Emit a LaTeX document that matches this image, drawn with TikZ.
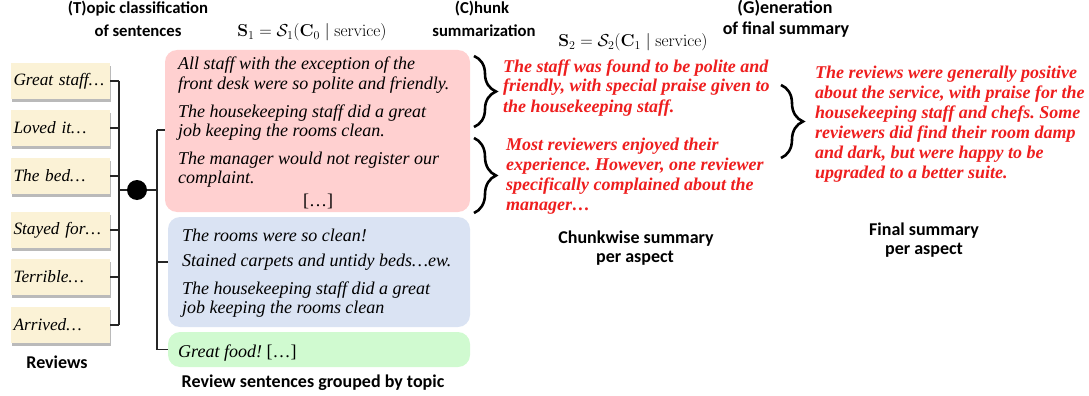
\documentclass[tikz,border=0pt]{standalone}
\usepackage[no-math]{fontspec}
\newfontfamily\tnr{Liberation Serif}
\newfontfamily\calib{Carlito}
\usepackage{amsmath}
\usetikzlibrary{shadows,decorations.pathreplacing}
\definecolor{cream}{RGB}{251,242,214}
\definecolor{pinkfill}{RGB}{255,208,208}
\definecolor{bluefill}{RGB}{218,227,243}
\definecolor{greenfill}{RGB}{208,250,208}
\definecolor{redtext}{RGB}{238,30,30}
\frenchspacing
\begin{document}
\begin{tikzpicture}[x=1pt,y=-1pt,
 sent/.style={font=\tnr\fontsize{18}{19}\selectfont\itshape, inner sep=0pt, anchor=base west},
 redtxt/.style={font=\tnr\fontsize{18}{20}\selectfont\bfseries\itshape, text=redtext, inner sep=0pt, anchor=base west},
 head/.style={font=\calib\bfseries\fontsize{18}{21}\selectfont, inner sep=0pt, anchor=base},
 headsm/.style={head, font=\calib\bfseries\fontsize{16.7}{20}\selectfont},
 mathlbl/.style={font=\fontsize{16.5}{18}\selectfont, inner sep=0pt, anchor=base},
 review/.style={fill=cream, text width=94pt, inner xsep=2.5pt, inner ysep=0pt, minimum height=36pt, align=left,
   font=\tnr\fontsize{17.3}{18}\selectfont\itshape,
   drop shadow={shadow xshift=1pt, shadow yshift=-3pt, fill=black!45, opacity=0.6}},
 topicbox/.style={rounded corners=12pt, inner sep=0pt},
 tree/.style={line width=1.3pt, black!85},
 brc/.style={decorate, decoration={brace, amplitude=22pt}, line width=2.6pt}
]
\useasboundingbox (0,0) rectangle (1089,396);

% headings
\node[headsm] (h1a) at (138,14) {(T)opic classification};
\node[headsm] (h1b) at (138,37) {of sentences};
\node[mathlbl] (s1) at (312,37) {$\mathbf{S}_1=\mathcal{S}_1(\mathbf{C}_0\mid\mathrm{service})$};
\node[headsm] (h2a) at (482,14) {(C)hunk};
\node[headsm] (h2b) at (484,37) {summarization};
\node[mathlbl] (s2) at (633,47) {$\mathbf{S}_2=\mathcal{S}_2(\mathbf{C}_1\mid\mathrm{service})$};
\node[head] (h3a) at (785,14) {(G)eneration};
\node[head] (h3b) at (786,35) {of final summary};

% reviews
\node[review] (r1) at (60.5,81) {Great staff…};
\node[review] (r2) at (60.5,128) {Loved it…};
\node[review] (r3) at (60.5,176) {The bed…};
\node[review] (r4) at (60.5,230) {Stayed for…};
\node[review] (r5) at (60.5,277) {Terrible…};
\node[review] (r6) at (60.5,325) {Arrived…};
\node[head] (lrev) at (57,368) {Reviews};

% topic boxes
\node[topicbox, fill=pinkfill, minimum width=305pt, minimum height=162pt] (pink) at (317.5,131) {};
\node[topicbox, fill=bluefill, minimum width=302pt, minimum height=110pt] (blue) at (319,272) {};
\node[topicbox, fill=greenfill, minimum width=302pt, minimum height=35pt] (green) at (319,349.5) {};

% tree
\coordinate (busL) at (119,190);
\coordinate (busR) at (157,190);
\node[circle, fill=black, minimum size=20pt, inner sep=0pt] (dot) at (137,190) {};
\foreach \i in {1,...,6} {\draw[tree] (r\i.east) -- (r\i.east -| busL);}
\draw[tree] (r1.east -| busL) -- (r6.east -| busL);
\draw[tree] (busL) -- (dot);
\draw[tree] (dot) -- (busR);
\coordinate (tP) at (157,130);
\coordinate (tB) at (157,262);
\draw[tree] (tP) -- (tP |- green.west) -- (green.west);
\draw[tree] (tP) -- (tP -| pink.west);
\draw[tree] (tB) -- (tB -| blue.west);

% pink sentences
\node[sent] (p1) at (178,70) {All staff with the exception of the};
\node[sent] (p2) at (178,89) {front desk were so polite and friendly.};
\node[sent] (p3) at (178,117) {The housekeeping staff did a great};
\node[sent] (p4) at (178,136) {job keeping the rooms clean.};
\node[sent] (p5) at (178,164) {The manager would not register our};
\node[sent] (p6) at (178,183) {complaint.};
\node[sent, font=\tnr\fontsize{18}{19}\selectfont, anchor=base] (p7) at (318,206) {[…]};

% blue sentences
\node[sent] (b1) at (182,241) {The rooms were so clean!};
\node[sent] (b2) at (182,266) {Stained carpets and untidy beds…ew.};
\node[sent] (b3) at (182,294) {The housekeeping staff did a great};
\node[sent] (b4) at (182,313) {job keeping the rooms clean};

% green
\node[sent] (g1) at (178,357) {Great food! \upshape[…]};
\node[head] (lgrp) at (313,387) {Review sentences grouped by topic};

% braces
\coordinate (bA1) at (474,56);
\coordinate (bA2) at (474,127);
\coordinate (bB1) at (474,138);
\coordinate (bB2) at (474,213);
\coordinate (bC1) at (781,85);
\coordinate (bC2) at (781,158);
\draw[brc] (bA1) -- (bA2);
\draw[brc] (bB1) -- (bB2);
\draw[brc] (bC1) -- (bC2);

% chunk summaries
\node[redtxt] (c1) at (503,72) {The staff was found to be polite and};
\node[redtxt] (c2) at (503,92) {friendly, with special praise given to};
\node[redtxt] (c3) at (503,112) {the housekeeping staff.};
\node[redtxt] (c4) at (506,150) {Most reviewers enjoyed their};
\node[redtxt] (c5) at (506,170) {experience. However, one reviewer};
\node[redtxt] (c6) at (506,190) {specifically complained about the};
\node[redtxt] (c7) at (506,210) {manager…};
\node[head] (lchk1) at (636,243) {Chunkwise summary};
\node[head] (lchk2) at (635,262) {per aspect};

% final summary
\node[redtxt] (f1) at (815,78) {The reviews were generally positive};
\node[redtxt] (f2) at (815,98) {about the service, with praise for the};
\node[redtxt] (f3) at (815,118) {housekeeping staff and chefs. Some};
\node[redtxt] (f4) at (815,138) {reviewers did find their room damp};
\node[redtxt] (f5) at (815,158) {and dark, but were happy to be};
\node[redtxt] (f6) at (815,178) {upgraded to a better suite.};
\node[head] (lfin1) at (924,235) {Final summary};
\node[head] (lfin2) at (924,254) {per aspect};
\end{tikzpicture}
\end{document}
